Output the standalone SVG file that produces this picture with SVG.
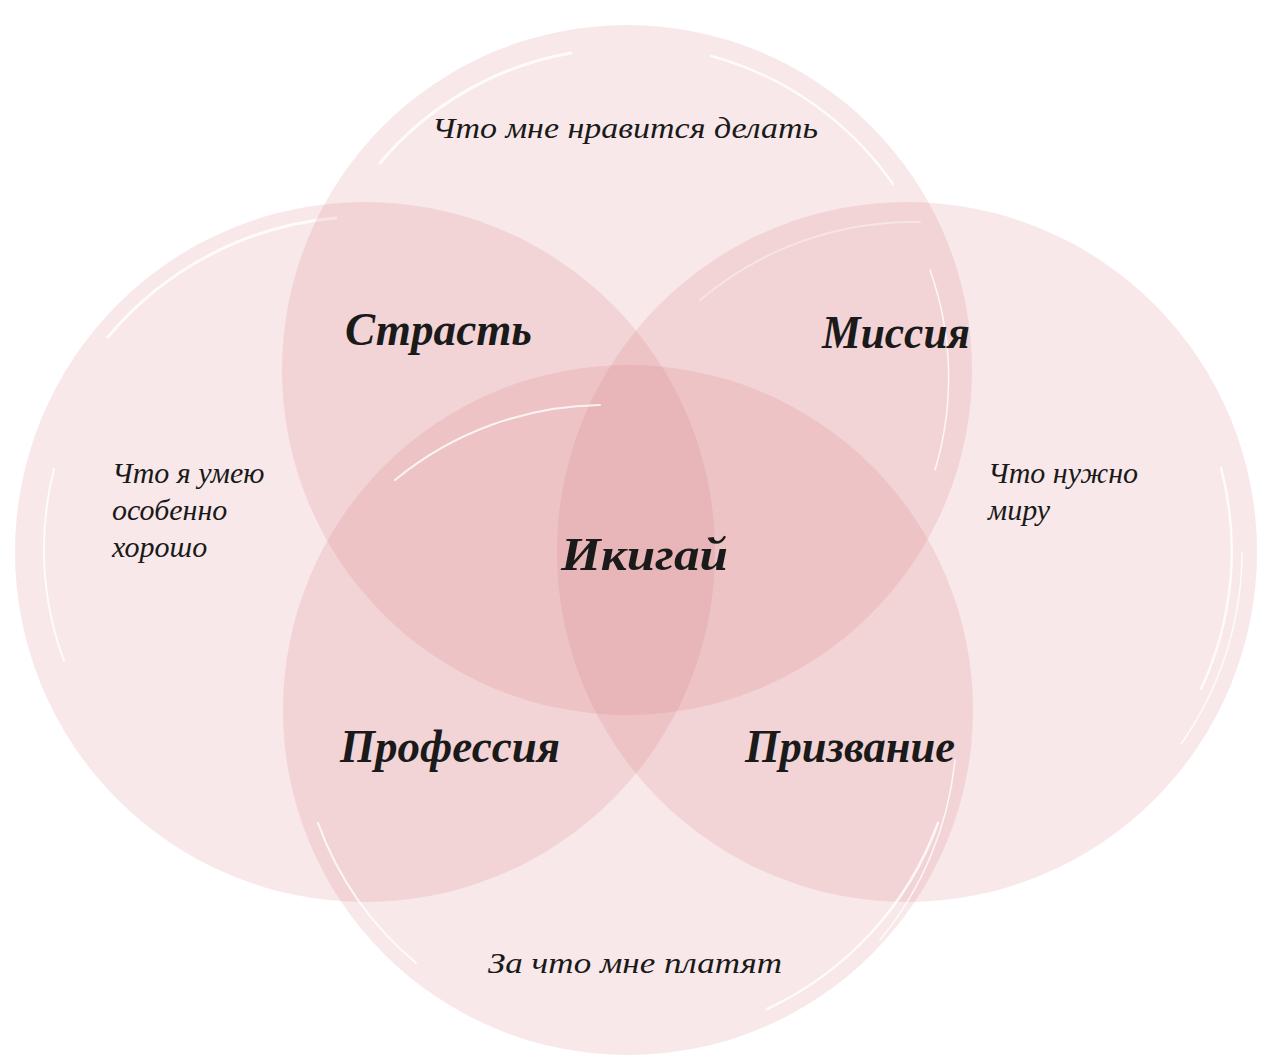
<svg xmlns="http://www.w3.org/2000/svg" width="1261" height="1061" viewBox="0 0 1261 1061">
<style>
.c{fill:#d0666c;fill-opacity:0.15}
.s{fill:none;stroke:#ffffff;stroke-opacity:0.8;stroke-linecap:round}
.t{font-family:"Liberation Serif","DejaVu Serif",serif;font-style:italic;fill:#1a1a1a}
.sm{font-size:30px}
.bg{font-size:46px;font-weight:bold}
</style>
<rect width="1261" height="1061" fill="#ffffff"/>
<g id="circle-left">
<circle class="c" cx="365" cy="552" r="350"/>
<path class="s" stroke-width="3" d="M108 337 A335 335 0 0 1 336 218"/>
<path class="s" stroke-width="2" d="M54 469 A322 322 0 0 0 64 661"/>
</g>
<g id="circle-right">
<circle class="c" cx="907" cy="552" r="350"/>
<path class="s" stroke-width="2.5" d="M1221 468 A325 325 0 0 1 1201 689"/>
<path class="s" stroke-width="1.5" d="M1242 552 A335 335 0 0 1 1181 744"/>
<path class="s" stroke-width="2" stroke-opacity="0.5" d="M700 300 A330 330 0 0 1 920 222"/>
</g>
<g id="circle-top">
<circle class="c" cx="627" cy="370" r="345"/>
<path class="s" stroke-width="3" d="M380 163 A322 322 0 0 1 571 53"/>
<path class="s" stroke-width="2.5" d="M711 56 A325 325 0 0 1 893 184"/>
<path class="s" stroke-width="1.5" d="M930 270 A320 320 0 0 1 935 470"/>
</g>
<g id="circle-bottom">
<circle class="c" cx="628" cy="710" r="345"/>
<path class="s" stroke-width="2.5" d="M938 823 A330 330 0 0 1 767 1009"/>
<path class="s" stroke-width="1.5" d="M955 760 A335 335 0 0 1 880 940"/>
<path class="s" stroke-width="2" d="M318 823 A330 330 0 0 0 416 963"/>
<path class="s" stroke-width="2" stroke-opacity="0.4" d="M395 480 A330 330 0 0 1 600 405"/>
</g>
<g id="label-love">
<text class="t sm" x="625" y="138" text-anchor="middle" textLength="386" lengthAdjust="spacingAndGlyphs">Что мне нравится делать</text>
</g>
<g id="label-good">
<text class="t sm" x="112" y="483">Что я умею</text>
<text class="t sm" x="112" y="520">особенно</text>
<text class="t sm" x="112" y="557">хорошо</text>
</g>
<g id="label-world">
<text class="t sm" x="988" y="483">Что нужно</text>
<text class="t sm" x="988" y="520">миру</text>
</g>
<g id="label-paid">
<text class="t sm" x="635" y="973" text-anchor="middle" textLength="294" lengthAdjust="spacingAndGlyphs">За что мне платят</text>
</g>
<g id="passion">
<text class="t bg" x="345" y="345" textLength="187" lengthAdjust="spacingAndGlyphs">Страсть</text>
</g>
<g id="mission">
<text class="t bg" x="822" y="348" textLength="148" lengthAdjust="spacingAndGlyphs">Миссия</text>
</g>
<g id="ikigai">
<text class="t bg" x="561" y="570" font-size="50" textLength="167" lengthAdjust="spacingAndGlyphs">Икигай</text>
</g>
<g id="profession">
<text class="t bg" x="340" y="762" textLength="220" lengthAdjust="spacingAndGlyphs">Профессия</text>
</g>
<g id="vocation">
<text class="t bg" x="745" y="762" textLength="210" lengthAdjust="spacingAndGlyphs">Призвание</text>
</g>
</svg>
